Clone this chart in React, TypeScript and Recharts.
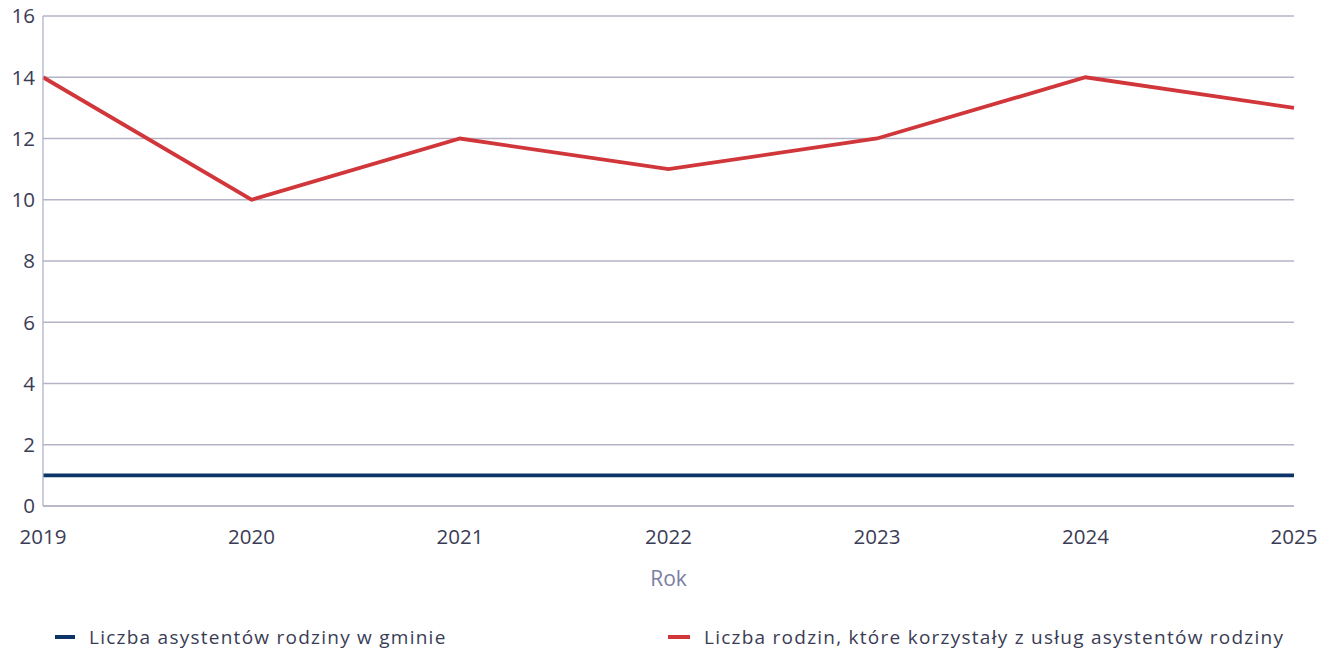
import React from "react";
import { LineChart, Line, XAxis, YAxis, CartesianGrid } from "recharts";

const years = ["2019", "2020", "2021", "2022", "2023", "2024", "2025"];
const assistants = [1, 1, 1, 1, 1, 1, 1];
const families = [14, 10, 12, 11, 12, 14, 13];
const yTicks = [0, 2, 4, 6, 8, 10, 12, 14, 16];

const seriesNames = [
  "Liczba asystentów rodziny w gminie",
  "Liczba rodzin, które korzystały z usług asystentów rodziny",
];
const seriesColors = ["#0d3466", "#d0363a"];

const data = years.map((y, i) => ({
  year: y,
  assistants: assistants[i],
  families: families[i],
}));

const FONT = "'Open Sans', sans-serif";
const TEXT = "#3a3c55";
const GRID = "#b4b4c6";

export default function App() {
  return (
    <div style={{ position: "absolute", left: 0, top: 0, width: 1328, height: 654, background: "#fff", fontFamily: FONT }}>
      <LineChart
        width={1328}
        height={654}
        data={data}
        margin={{ top: 16, right: 34, left: 0, bottom: 48 }}
      >
        <CartesianGrid vertical={false} stroke={GRID} strokeWidth={1.3} />
        <XAxis
          dataKey="year"
          height={100}
          stroke={GRID}
          strokeWidth={1.3}
          tickLine={false}
          tick={{ fill: TEXT, fontSize: 20.5, fontFamily: FONT, dy: 15 }}
          interval={0}
          label={{ value: "Rok", position: "insideTop", offset: 65, fill: "#7a7ea3", fontSize: 21, fontFamily: FONT }}
        />
        <YAxis
          width={43}
          domain={[0, 16]}
          ticks={yTicks}
          stroke={GRID}
          strokeWidth={1.3}
          tickLine={false}
          tick={{ fill: TEXT, fontSize: 20.5, fontFamily: FONT }}
          tickMargin={2}
        />
        <Line
          type="linear"
          dataKey="assistants"
          name={seriesNames[0]}
          stroke={seriesColors[0]}
          strokeWidth={3.8}
          dot={false}
          activeDot={false}
          isAnimationActive={false}
        />
        <Line
          type="linear"
          dataKey="families"
          name={seriesNames[1]}
          stroke={seriesColors[1]}
          strokeWidth={3.8}
          dot={false}
          activeDot={false}
          isAnimationActive={false}
        />
      </LineChart>
      {seriesNames.map((n, i) => (
        <div
          key={n}
          style={{
            position: "absolute",
            top: 624,
            left: i === 0 ? 55 : 668,
            display: "flex",
            alignItems: "center",
            fontSize: 19,
            color: TEXT,
            whiteSpace: "nowrap",
            letterSpacing: 1.25,
          }}
        >
          <span style={{ display: "inline-block", width: i === 0 ? 20 : 22, height: 4, background: seriesColors[i], marginRight: 14 }} />
          <span>{n}</span>
        </div>
      ))}
    </div>
  );
}
